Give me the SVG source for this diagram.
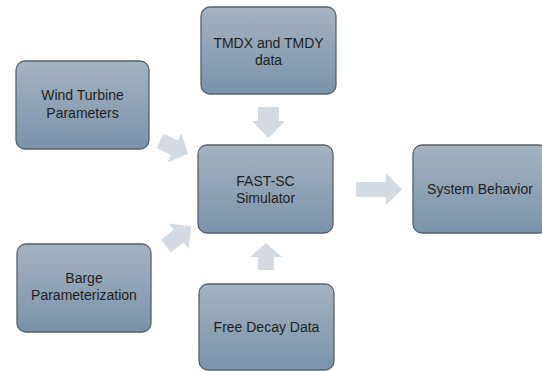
<svg xmlns="http://www.w3.org/2000/svg" width="542" height="371" viewBox="0 0 542 371">
<defs>
<linearGradient id="g" x1="0" y1="0" x2="0" y2="1">
<stop offset="0" stop-color="#a5b3c2"/>
<stop offset="1" stop-color="#7a93aa"/>
</linearGradient>
<style>
.box{fill:url(#g);stroke:#56616b;stroke-width:1.3}
.t{font-family:"Liberation Sans","Inter",Arial,sans-serif;font-size:14px;fill:#1e1e1e;text-anchor:middle}
.ar{fill:#d3dae1}
</style>
</defs>
<rect width="542" height="371" fill="#ffffff"/>
<g id="connectors">
<path class="ar" d="M258,107 H279 V121 H285 L268.5,138 L252,121 H258 Z"/>
<path class="ar" d="M258,270 H274 V257 H282 L266,243 L250,257 H258 Z"/>
<path class="ar" d="M356,182 H386 V173 L402,189.5 L386,205 V197 H356 Z"/>
<path class="ar" transform="translate(160,141) rotate(25)" d="M0,-8 H16 V-16 L31,0 L16,16 V8 H0 Z"/>
<path class="ar" transform="translate(166,246) rotate(-38)" d="M0,-8 H16 V-16 L32,0 L16,16 V8 H0 Z"/>
</g>
<g id="wind-turbine">
<rect class="box" x="16" y="61" width="133" height="88" rx="9"/>
<text class="t" x="82.5" y="100">Wind Turbine</text>
<text class="t" x="82.5" y="118">Parameters</text>
</g>
<g id="tmd-data">
<rect class="box" x="201" y="7" width="135" height="87" rx="9"/>
<text class="t" x="268.5" y="48">TMDX and TMDY</text>
<text class="t" x="268.5" y="65">data</text>
</g>
<g id="fast-sc">
<rect class="box" x="198" y="145" width="135" height="88" rx="9"/>
<text class="t" x="265.5" y="186">FAST-SC</text>
<text class="t" x="265.5" y="203">Simulator</text>
</g>
<g id="system-behavior">
<rect class="box" x="413" y="145" width="135" height="88" rx="9"/>
<text class="t" x="480" y="194">System Behavior</text>
</g>
<g id="barge">
<rect class="box" x="17" y="244" width="134" height="88" rx="9"/>
<text class="t" x="84" y="283">Barge</text>
<text class="t" x="84" y="300">Parameterization</text>
</g>
<g id="free-decay">
<rect class="box" x="199" y="284" width="135" height="86" rx="9"/>
<text class="t" x="266.5" y="332">Free Decay Data</text>
</g>
</svg>
